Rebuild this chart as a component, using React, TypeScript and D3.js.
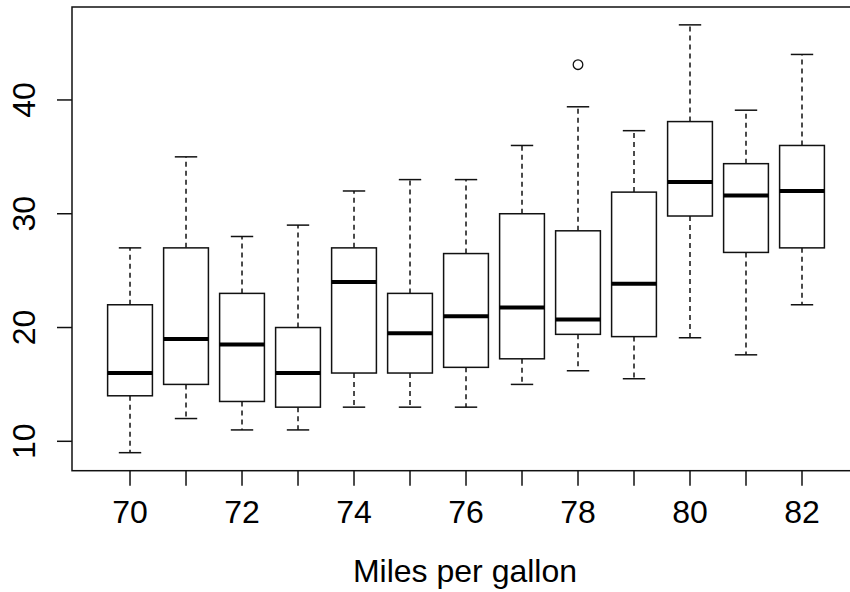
import React from "react";
import * as d3 from "d3";

const years = [70, 71, 72, 73, 74, 75, 76, 77, 78, 79, 80, 81, 82];
const whiskerLow = [9, 12, 11, 11, 13, 13, 13, 15, 16.2, 15.5, 19.1, 17.6, 22];
const q1 = [14, 15, 13.5, 13, 16, 16, 16.5, 17.25, 19.4, 19.2, 29.8, 26.6, 27];
const medians = [16, 19, 18.5, 16, 24, 19.5, 21, 21.75, 20.7, 23.85, 32.8, 31.6, 32];
const q3 = [22, 27, 23, 20, 27, 23, 26.5, 30, 28.5, 31.9, 38.1, 34.4, 36];
const whiskerHigh = [27, 35, 28, 29, 32, 33, 33, 36, 39.4, 37.3, 46.6, 39.1, 44];
const outlierYears = [78];
const outlierValues = [43.1];
const xTickLabels = [70, 72, 74, 76, 78, 80, 82];
const yTickLabels = [10, 20, 30, 40];
const xLabel = "Miles per gallon";

const W = 850;
const H = 592;
const left = 72;
const right = 858;
const top = 7;
const bottom = 470.7;
const font = "'Liberation Sans', Arial, Helvetica, sans-serif";
const lw = 1.5;
const ink = "#111";

export default function App() {
  const x = d3.scaleLinear().domain([68.964, 83.0]).range([left, right]);
  const y = d3.scaleLinear().domain([7.416, 48.17]).range([bottom, top]);
  const unit = x(71) - x(70);
  const halfBox = unit * 0.4;
  const halfStaple = unit * 0.2;

  return (
    <svg
      width={W}
      height={H}
      style={{ position: "absolute", left: 0, top: 0, background: "#fff" }}
      fontFamily={font}
    >
      <rect x={0} y={0} width={W} height={H} fill="#fff" />
      {years.map((yr, i) => {
        const cx = x(yr);
        return (
          <g key={yr}>
            <line x1={cx} x2={cx} y1={y(q3[i])} y2={y(whiskerHigh[i])} stroke={ink} strokeWidth={lw} strokeDasharray="5,4" />
            <line x1={cx} x2={cx} y1={y(q1[i])} y2={y(whiskerLow[i])} stroke={ink} strokeWidth={lw} strokeDasharray="5,4" />
            <line x1={cx - halfStaple} x2={cx + halfStaple} y1={y(whiskerHigh[i])} y2={y(whiskerHigh[i])} stroke={ink} strokeWidth={lw} />
            <line x1={cx - halfStaple} x2={cx + halfStaple} y1={y(whiskerLow[i])} y2={y(whiskerLow[i])} stroke={ink} strokeWidth={lw} />
            <rect x={cx - halfBox} y={y(q3[i])} width={2 * halfBox} height={y(q1[i]) - y(q3[i])} fill="#fff" stroke={ink} strokeWidth={lw} />
            <line x1={cx - halfBox} x2={cx + halfBox} y1={y(medians[i])} y2={y(medians[i])} stroke="#000" strokeWidth={4} />
          </g>
        );
      })}
      {outlierYears.map((yr, i) => (
        <circle key={yr} cx={x(yr)} cy={y(outlierValues[i])} r={4.8} fill="none" stroke={ink} strokeWidth={1.3} />
      ))}
      <rect x={left} y={top} width={right - left} height={bottom - top} fill="none" stroke={ink} strokeWidth={lw} />
      {years.map((yr) => (
        <line key={"xt" + yr} x1={x(yr)} x2={x(yr)} y1={bottom} y2={bottom + 15} stroke={ink} strokeWidth={lw} />
      ))}
      {xTickLabels.map((v) => (
        <text key={"xl" + v} x={x(v)} y={522.5} textAnchor="middle" fontSize={32} fill="#000">
          {v}
        </text>
      ))}
      {yTickLabels.map((v) => (
        <g key={"y" + v}>
          <line x1={left - 15} x2={left} y1={y(v)} y2={y(v)} stroke={ink} strokeWidth={lw} />
          <text transform={`translate(35,${y(v)}) rotate(-90)`} textAnchor="middle" fontSize={32} fill="#000">
            {v}
          </text>
        </g>
      ))}
      <text x={(left + right) / 2} y={581.5} textAnchor="middle" fontSize={32} fill="#000">
        {xLabel}
      </text>
    </svg>
  );
}
